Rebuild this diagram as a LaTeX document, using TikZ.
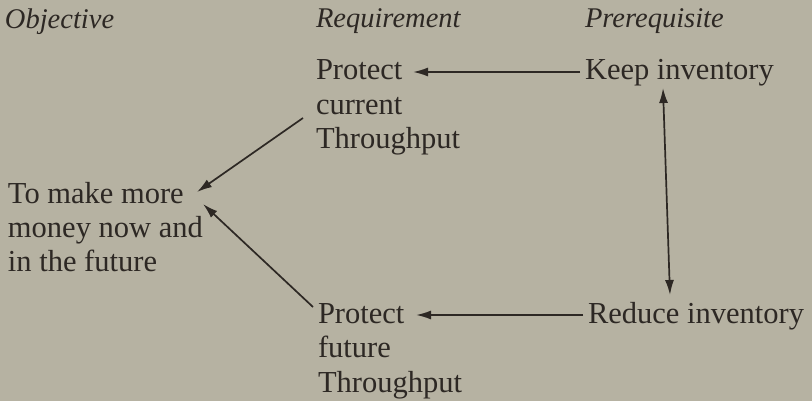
\documentclass[tikz,border=0pt]{standalone}
\usepackage{fontspec}
\setmainfont{Liberation Serif}
\usetikzlibrary{arrows.meta,calc}
\definecolor{paper}{RGB}{182,178,162}
\definecolor{ink}{RGB}{45,40,36}
\begin{document}
\begin{tikzpicture}[x=1pt,y=-1pt,
  lbl/.style={anchor=base west,inner sep=0pt,outer sep=0pt,text=ink,align=left,
    font=\fontsize{30.5}{34.5}\selectfont},
  head/.style={lbl,font=\fontsize{28.5}{34}\selectfont\itshape},
  tip/.tip={Latex[length=15pt,width=9pt]},
  arr/.style={draw=ink,line width=1.7pt,-tip},
  darr/.style={draw=ink,line width=1.7pt,tip-tip}]
\fill[paper] (0,0) rectangle (812,401);
\useasboundingbox (0,0) rectangle (812,401);
% headings
\node[head] (hobj) at (5,29) {Objective};
\node[head] (hreq) at (316,28) {Requirement};
\node[head] (hpre) at (585,28) {Prerequisite};
% boxes (multi-line nodes are placed by the baseline of their last line)
\node[lbl] (pc) at (316,149) {Protect\\current\\Throughput};
\node[lbl] (keep) at (585,80) {Keep inventory};
\node[lbl] (obj) at (8,272) {To make more\\money now and\\in the future};
\node[lbl] (pf) at (318,392) {Protect\\future\\Throughput};
\node[lbl] (red) at (588,323) {Reduce inventory};
% connectors
\draw[arr] ($(keep.base west)+(-5,-8)$) -- ($(keep.base west -| pc.base west)+(97,-8)$);
\draw[arr] ($(red.base west)+(-5,-8)$) -- ($(red.base west -| pf.base west)+(98,-8)$);
\draw[darr] ($(keep.base west)+(78,8)$) -- ($(red.base west)+(82,-28)$);
\coordinate (objtip1) at ($(obj.base west)+(189,-80)$);
\coordinate (objtip2) at ($(obj.base west)+(195,-68)$);
\draw[arr] ($(pc.base west)+(-13,-31)$) -- (objtip1);
\draw[arr] ($(pf.base west)+(-5,-85)$) -- (objtip2);
\end{tikzpicture}
\end{document}
